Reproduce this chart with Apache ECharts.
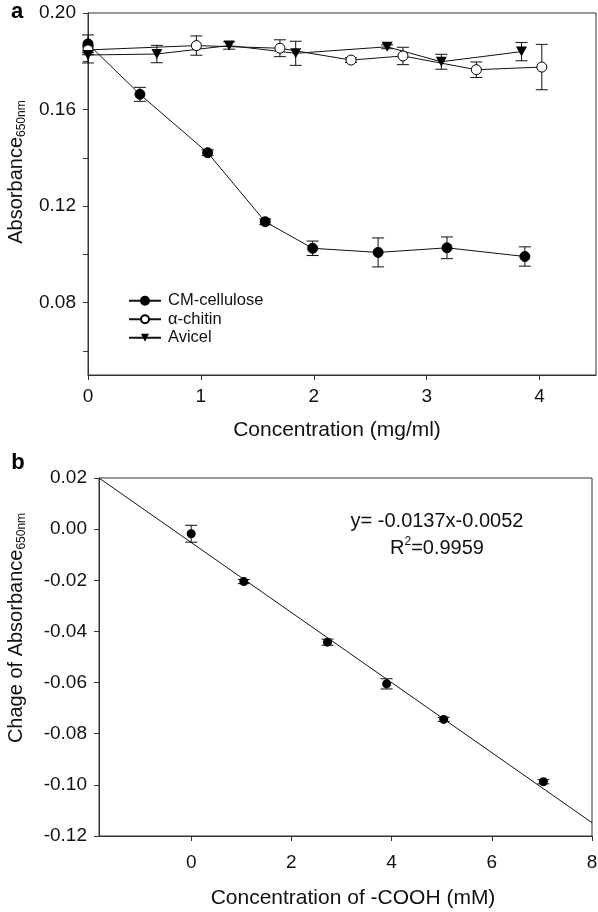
<!DOCTYPE html>
<html>
<head>
<meta charset="utf-8">
<script src="https://cdn.jsdelivr.net/npm/echarts@6/dist/echarts.min.js"></script>
<style>
html,body{margin:0;padding:0;background:#fff;}
#chart{width:598px;height:912px;}
</style>
</head>
<body>
<div id="chart"></div>
<script>
// ---------- Panel a data ----------
const cmX = [0, 0.46, 1.06, 1.57, 1.99, 2.57, 3.18, 3.87];
const cmY = [0.1872, 0.1663, 0.1421, 0.1135, 0.1025, 0.1008, 0.1027, 0.0991];
const cmErr = [0.0037, 0.0029, 0.0012, 0.0012, 0.0030, 0.0060, 0.0045, 0.0040];

const chitinX = [0, 0.96, 1.70, 2.33, 2.79, 3.44, 4.02];
const chitinY = [0.1847, 0.1865, 0.1854, 0.1805, 0.1822, 0.1765, 0.1776];
const chitinErr = [0.0020, 0.0040, 0.0035, 0.0010, 0.0036, 0.0032, 0.0094];

const avicelX = [0, 0.61, 1.25, 1.84, 2.65, 3.13, 3.84];
const avicelY = [0.1826, 0.1830, 0.1865, 0.1833, 0.1860, 0.1798, 0.1840];
const avicelErr = [0.0033, 0.0036, 0.0015, 0.0050, 0.0008, 0.0031, 0.0038];

const seriesNamesA = ['CM-cellulose', 'α-chitin', 'Avicel'];
const xTicksA = [0, 1, 2, 3, 4];
const yTicksA = [0.06, 0.08, 0.10, 0.12, 0.14, 0.16, 0.18, 0.20];
const yLabelsA = [0.08, 0.12, 0.16, 0.20];

// ---------- Panel b data ----------
const coohX = [0, 1.05, 2.72, 3.90, 5.04, 7.03];
const coohY = [-0.0018, -0.0205, -0.0442, -0.0605, -0.0744, -0.0988];
const coohErr = [0.0033, 0.0008, 0.0012, 0.0020, 0.0008, 0.0008];
const fitX = [-1.84, 8];
const fitY = [0.0200, -0.1148];
const xTicksB = [0, 2, 4, 6, 8];

const FONT = "'Liberation Sans', Arial, Helvetica, sans-serif";
const INK = '#111';
const AX = '#333';

const pairs = (xs, ys) => xs.map((x, i) => [x, ys[i]]);
const triples = (xs, ys, es) => xs.map((x, i) => [x, ys[i], es[i]]);

function errRender(cap) {
  return function (params, api) {
    const x = api.value(0), y = api.value(1), e = api.value(2);
    const t = api.coord([x, y + e]);
    const b = api.coord([x, y - e]);
    const st = { stroke: INK, lineWidth: 1 };
    return {
      type: 'group',
      children: [
        { type: 'line', shape: { x1: t[0], y1: t[1], x2: b[0], y2: b[1] }, style: st },
        { type: 'line', shape: { x1: t[0] - cap, y1: t[1], x2: t[0] + cap, y2: t[1] }, style: st },
        { type: 'line', shape: { x1: b[0] - cap, y1: b[1], x2: b[0] + cap, y2: b[1] }, style: st }
      ]
    };
  };
}

function errSeries(name, xi, yi, data, cap) {
  return {
    name: name, type: 'custom', xAxisIndex: xi, yAxisIndex: yi,
    renderItem: errRender(cap), data: data, encode: { x: 0, y: 1 }, z: 1, silent: true
  };
}

const axisLineStyle = { show: true, onZero: false, lineStyle: { color: AX, width: 1 } };

const chart = echarts.init(document.getElementById('chart'), null, { renderer: 'canvas' });

const option = {
  backgroundColor: '#fff',
  animation: false,
  textStyle: { fontFamily: FONT },
  grid: [
    { left: 88, top: 13, width: 508, height: 362, show: true, borderColor: AX, borderWidth: 1, backgroundColor: 'transparent', outerBoundsMode: 'none' },
    { left: 99, top: 478, width: 493, height: 358, show: true, borderColor: AX, borderWidth: 1, backgroundColor: 'transparent', outerBoundsMode: 'none' }
  ],
  xAxis: [
    {
      gridIndex: 0, type: 'value', min: 0, max: 4.5,
      axisLine: axisLineStyle, splitLine: { show: false },
      axisTick: { show: true, length: 5, customValues: xTicksA, lineStyle: { color: AX } },
      axisLabel: { customValues: xTicksA, margin: 12, fontSize: 19, color: INK, fontFamily: FONT }
    },
    {
      gridIndex: 1, type: 'value', min: -1.84, max: 8,
      axisLine: axisLineStyle, splitLine: { show: false },
      axisTick: { show: true, length: 5, customValues: xTicksB, lineStyle: { color: AX } },
      axisLabel: { customValues: xTicksB, margin: 17, fontSize: 19, color: INK, fontFamily: FONT }
    }
  ],
  yAxis: [
    {
      gridIndex: 0, type: 'value', min: 0.05, max: 0.20,
      axisLine: axisLineStyle, splitLine: { show: false },
      axisTick: { show: true, length: 5, customValues: yTicksA, lineStyle: { color: AX } },
      axisLabel: { customValues: yLabelsA, margin: 12, fontSize: 19, color: INK, fontFamily: FONT,
        formatter: v => v.toFixed(2) }
    },
    {
      gridIndex: 1, type: 'value', min: -0.12, max: 0.02, interval: 0.02,
      axisLine: axisLineStyle, splitLine: { show: false },
      axisTick: { show: true, length: 5, lineStyle: { color: AX } },
      axisLabel: { margin: 12, fontSize: 19, color: INK, fontFamily: FONT,
        formatter: v => (Math.abs(v) < 1e-9 ? '0.00' : v.toFixed(2)) }
    }
  ],
  legend: {
    data: seriesNamesA,
    orient: 'vertical',
    left: 128, top: 292, padding: 0,
    itemWidth: 32, itemHeight: 10, itemGap: 1,
    textStyle: { fontSize: 16.5, color: INK, fontFamily: FONT, lineHeight: 17.5, padding: [0, 0, 0, 2] },
    selectedMode: false
  },
  series: [
    errSeries('errCM', 0, 0, triples(cmX, cmY, cmErr), 6),
    errSeries('errChitin', 0, 0, triples(chitinX, chitinY, chitinErr), 6),
    errSeries('errAvicel', 0, 0, triples(avicelX, avicelY, avicelErr), 6),
    {
      name: seriesNamesA[0], type: 'line', xAxisIndex: 0, yAxisIndex: 0,
      data: pairs(cmX, cmY), symbol: 'circle', symbolSize: 10, z: 3,
      lineStyle: { color: INK, width: 1 },
      itemStyle: { color: '#000', borderColor: '#000', borderWidth: 1 }
    },
    {
      name: seriesNamesA[1], type: 'line', xAxisIndex: 0, yAxisIndex: 0,
      data: pairs(chitinX, chitinY), symbol: 'circle', symbolSize: 10, z: 3,
      lineStyle: { color: INK, width: 1 },
      itemStyle: { color: '#fff', borderColor: '#000', borderWidth: 1 }
    },
    {
      name: seriesNamesA[2], type: 'line', xAxisIndex: 0, yAxisIndex: 0,
      data: pairs(avicelX, avicelY), symbol: 'triangle', symbolRotate: 180, symbolSize: [11, 10], z: 3,
      lineStyle: { color: INK, width: 1 },
      itemStyle: { color: '#000', borderColor: '#000', borderWidth: 0 }
    },
    errSeries('errCOOH', 1, 1, triples(coohX, coohY, coohErr), 6),
    {
      name: 'fit', type: 'line', xAxisIndex: 1, yAxisIndex: 1,
      data: pairs(fitX, fitY), showSymbol: false, symbol: 'none', z: 2,
      lineStyle: { color: INK, width: 1 }
    },
    {
      name: 'COOH', type: 'scatter', xAxisIndex: 1, yAxisIndex: 1,
      data: pairs(coohX, coohY), symbol: 'circle', symbolSize: 9, z: 3,
      itemStyle: { color: '#000', opacity: 1 }
    }
  ],
  graphic: [
    { type: 'text', x: 17, y: 12, style: { text: 'a', font: "bold 22px " + FONT, fill: '#000', textAlign: 'center', textVerticalAlign: 'middle' } },
    { type: 'text', x: 18, y: 463, style: { text: 'b', font: "bold 22px " + FONT, fill: '#000', textAlign: 'center', textVerticalAlign: 'middle' } },
    { type: 'text', x: 16, y: 172, rotation: Math.PI / 2,
      style: { text: '{m|Absorbance}{s|650nm}', textAlign: 'center', textVerticalAlign: 'middle', fill: INK,
        rich: { m: { fontSize: 20, fontFamily: FONT, lineHeight: 24, fill: INK, color: INK },
                s: { fontSize: 12, fontFamily: FONT, lineHeight: 12, verticalAlign: 'bottom', fill: INK, color: INK } } } },
    { type: 'text', x: 16, y: 628, rotation: Math.PI / 2,
      style: { text: '{m|Chage of Absorbance}{s|650nm}', textAlign: 'center', textVerticalAlign: 'middle', fill: INK,
        rich: { m: { fontSize: 20, fontFamily: FONT, lineHeight: 24, fill: INK, color: INK },
                s: { fontSize: 12, fontFamily: FONT, lineHeight: 12, verticalAlign: 'bottom', fill: INK, color: INK } } } },
    { type: 'text', x: 337, y: 430, style: { text: 'Concentration (mg/ml)', font: "21px " + FONT, fill: INK, textAlign: 'center', textVerticalAlign: 'middle' } },
    { type: 'text', x: 353, y: 898, style: { text: 'Concentration of -COOH (mM)', font: "21px " + FONT, fill: INK, textAlign: 'center', textVerticalAlign: 'middle' } },
    { type: 'text', x: 437, y: 521, style: { text: 'y= -0.0137x-0.0052', font: "20px " + FONT, fill: INK, textAlign: 'center', textVerticalAlign: 'middle' } },
    { type: 'text', x: 437, y: 548,
      style: { text: '{m|R}{p|2}{m|=0.9959}', textAlign: 'center', textVerticalAlign: 'middle', fill: INK,
        rich: { m: { fontSize: 20, fontFamily: FONT, lineHeight: 24, fill: INK, color: INK },
                p: { fontSize: 12, fontFamily: FONT, lineHeight: 12, verticalAlign: 'top', fill: INK, color: INK } } } }
  ]
};
chart.setOption(option);
</script>
</body>
</html>
